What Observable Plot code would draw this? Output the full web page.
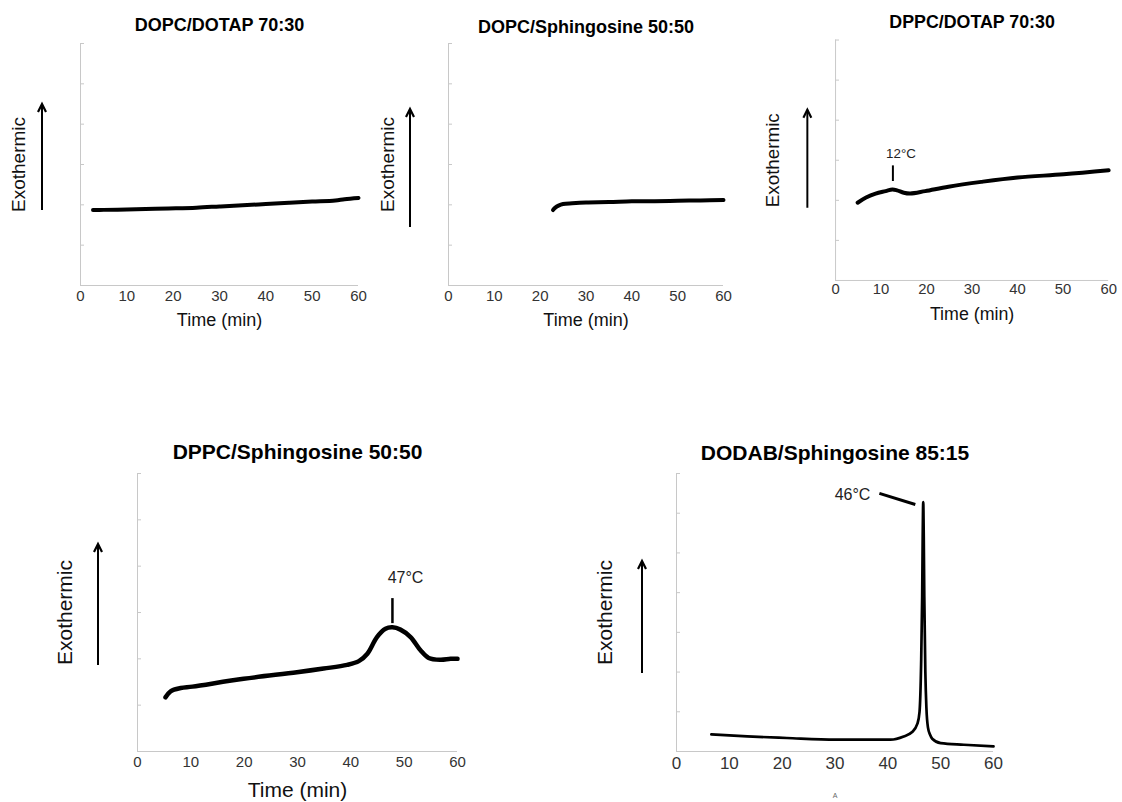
<!DOCTYPE html>
<html><head><meta charset="utf-8">
<script src="https://cdn.jsdelivr.net/npm/d3@7"></script>
<script src="https://cdn.jsdelivr.net/npm/@observablehq/plot@0.6"></script>
<style>
html,body{margin:0;padding:0;background:#fff;}
#page{position:relative;width:1122px;height:802px;overflow:hidden;font-family:"Liberation Sans",Arial,sans-serif;}
.panel{position:absolute;}
.panel svg{overflow:visible;}
</style></head><body><div id="page"></div>
<script>
// ---------- data ----------
const xTicks = [0, 10, 20, 30, 40, 50, 60];
const xLabel = "Time (min)";
const yLabel = "Exothermic";
const titles = ["DOPC/DOTAP 70:30", "DOPC/Sphingosine 50:50", "DPPC/DOTAP 70:30", "DPPC/Sphingosine 50:50", "DODAB/Sphingosine 85:15"];

const p1Time = [2.7, 5, 8, 12, 19, 25, 30, 35, 40, 45, 50, 55, 57, 60];
const p1Signal = [1.87, 1.875, 1.88, 1.89, 1.91, 1.93, 1.96, 1.99, 2.02, 2.05, 2.08, 2.11, 2.14, 2.17];

const p2Time = [22.8, 23.3, 24, 25, 27, 30, 35, 40, 45, 50, 55, 60];
const p2Signal = [1.87, 1.93, 1.98, 2.02, 2.04, 2.06, 2.07, 2.09, 2.09, 2.1, 2.11, 2.12];

const p3Time = [4.85, 6.7, 8.8, 11.0, 12.5, 13.5, 15.0, 16.4, 19.7, 24.8, 32.0, 40.0, 50.1, 60];
const p3Signal = [1.94, 2.07, 2.17, 2.23, 2.27, 2.25, 2.19, 2.17, 2.23, 2.34, 2.46, 2.57, 2.65, 2.75];

const p4Time = [5.25, 6.2, 8.1, 10.3, 19.9, 29.9, 34.9, 39.3, 41.5, 43.1, 44.9, 46.5, 47.8, 49.3, 51.2, 53.1, 54.6, 56.8, 58.7, 60];
const p4Signal = [1.17, 1.30, 1.37, 1.40, 1.57, 1.71, 1.79, 1.87, 1.95, 2.11, 2.47, 2.65, 2.68, 2.63, 2.47, 2.18, 2.02, 1.98, 2.00, 2.00];

const p5Time = [6.6, 13.4, 20.9, 30.1, 40.5, 43.0, 44.6, 45.6, 46.0, 46.3, 46.5, 46.6, 46.7, 46.8, 46.9, 47.1, 47.3, 47.6, 48.0, 48.4, 50.0, 54.4, 60];
const p5Signal = [0.43, 0.38, 0.34, 0.30, 0.30, 0.38, 0.49, 0.70, 1.0, 2.2, 3.9, 5.4, 6.28, 5.4, 3.9, 2.0, 1.1, 0.6, 0.42, 0.32, 0.21, 0.17, 0.13];

// annotations (data units)
const p3Anno = ["12°C"], p3AnnoX = [11.1], p3AnnoY = [3.16], p3MarkX = [12.6], p3MarkY1 = [2.47], p3MarkY2 = [2.86];
const p4Anno = ["47°C"], p4AnnoX = [46.9], p4AnnoY = [3.74], p4MarkX = [47.8], p4MarkY1 = [2.76], p4MarkY2 = [3.3];
const p5Anno = ["46°C"], p5AnnoX = [36.7], p5AnnoY = [6.47], p5MarkX1 = [38.4], p5MarkY1 = [6.5], p5MarkX2 = [45.2], p5MarkY2 = [6.22];
const footnote = "A";

// ---------- layout ----------
const layout = [
  {left: 80, right: 358, top: 43, bottom: 285, ymax: 6, titleDy: -18, titleSize: 18, exoDx: -62, exoSize: 19, arrowDx: -38, arrowTop: 103, arrowBottom: 210, tickSize: 15, tickPad: 5, labelDy: 35, labelSize: 18, lw: 4, curve: "catmull-rom"},
  {left: 448, right: 723, top: 43, bottom: 285, ymax: 6, titleDy: -16, titleSize: 18, exoDx: -61, exoSize: 19, arrowDx: -38, arrowTop: 108, arrowBottom: 227, tickSize: 15, tickPad: 5, labelDy: 35, labelSize: 18, lw: 4, curve: "catmull-rom"},
  {left: 836, right: 1112, top: 40, bottom: 283, ymax: 6, titleDy: -18, titleSize: 18, exoDx: -63, exoSize: 19, arrowDx: -28, arrowTop: 110, arrowBottom: 210, tickSize: 15, tickPad: 3, labelDy: 34, labelSize: 18, lw: 4, curve: "catmull-rom"},
  {left: 137, right: 457, top: 473, bottom: 751, ymax: 6, titleDy: -21, titleSize: 21, exoDx: -72, exoSize: 21, arrowDx: -39, arrowTop: 543, arrowBottom: 665, tickSize: 15, tickPad: 5, labelDy: 39, labelSize: 21, lw: 4.5, curve: "catmull-rom"},
  {left: 676, right: 993, top: 473, bottom: 751, ymax: 7, titleDy: -20, titleSize: 21, exoDx: -71, exoSize: 21, arrowDx: -34, arrowTop: 560, arrowBottom: 673, tickSize: 17, tickPad: 5, labelDy: 0, labelSize: 0, lw: 2.7, curve: "monotone-x"}
];

const series = [
  [p1Time, p1Signal], [p2Time, p2Signal], [p3Time, p3Signal], [p4Time, p4Signal], [p5Time, p5Signal]
];

const annoMarks = [
  [],
  [],
  [
    Plot.text(p3Anno, {x: p3AnnoX, y: p3AnnoY, text: d => d, textAnchor: "start", fontSize: 13.5, fill: "#222"}),
    Plot.ruleX(p3MarkX, {x: d => d, y1: p3MarkY1, y2: p3MarkY2, stroke: "#000", strokeWidth: 2})
  ],
  [
    Plot.text(p4Anno, {x: p4AnnoX, y: p4AnnoY, text: d => d, textAnchor: "start", fontSize: 16, fill: "#222"}),
    Plot.ruleX(p4MarkX, {x: d => d, y1: p4MarkY1, y2: p4MarkY2, stroke: "#000", strokeWidth: 2.5})
  ],
  [
    Plot.text(p5Anno, {x: p5AnnoX, y: p5AnnoY, text: d => d, textAnchor: "end", fontSize: 16, fill: "#222"}),
    Plot.link(p5MarkX1, {x1: p5MarkX1, y1: p5MarkY1, x2: p5MarkX2, y2: p5MarkY2, stroke: "#000", strokeWidth: 3}),
    Plot.text([footnote], {frameAnchor: "bottom", dy: 44, lineAnchor: "middle", fontSize: 7, fill: "#666"})
  ]
];

const page = document.getElementById("page");

layout.forEach((c, i) => {
  const L = c.left - 90, T = c.top - 43;
  const W = c.right + 14 - L, H = c.bottom + 50 - T;
  const [xs, ys] = series[i];
  const arrow = (index, scales, values, dims) => {
    const g = d3.create("svg:g");
    const x = dims.marginLeft + c.arrowDx;
    const y1 = c.arrowTop - T, y2 = c.arrowBottom - T;
    g.append("line").attr("x1", x).attr("x2", x).attr("y1", y1 + 1).attr("y2", y2)
      .attr("stroke", "#000").attr("stroke-width", 2);
    g.append("polyline").attr("points", `${x - 4},${y1 + 9} ${x},${y1 + 1} ${x + 4},${y1 + 9}`)
      .attr("fill", "none").attr("stroke", "#000").attr("stroke-width", 2.2).attr("stroke-linejoin", "miter");
    return g.node();
  };
  const marks = [
    Plot.ruleX([0], {stroke: "#c8c8c8", strokeWidth: 1}),
    Plot.ruleY([0], {stroke: "#c8c8c8", strokeWidth: 1}),
    Plot.axisY({ticks: d3.range(0, c.ymax + 1), tickSize: -4, tickFormat: () => "", stroke: "#c8c8c8", label: null}),
    Plot.axisX({ticks: xTicks, tickSize: 0, tickPadding: c.tickPad, fontSize: c.tickSize, fill: "#333", label: null}),
    Plot.line(ys, {x: xs, y: ys, stroke: "#000", strokeWidth: c.lw, curve: c.curve, strokeLinecap: "round", strokeLinejoin: "round"}),
    Plot.text([titles[i]], {frameAnchor: "top", dy: c.titleDy, lineAnchor: "middle", fontSize: c.titleSize, fontWeight: "bold", fill: "#000"}),
    Plot.text([yLabel], {frameAnchor: "left", dx: c.exoDx, rotate: -90, textAnchor: "middle", lineAnchor: "middle", fontSize: c.exoSize, fill: "#111"}),
    arrow,
    ...annoMarks[i]
  ];
  if (c.labelSize) marks.push(Plot.text([xLabel], {frameAnchor: "bottom", dy: c.labelDy, lineAnchor: "middle", fontSize: c.labelSize, fill: "#111"}));
  const chart = Plot.plot({
    width: W, height: H,
    marginLeft: c.left - L, marginRight: W - (c.right - L),
    marginTop: c.top - T, marginBottom: H - (c.bottom - T),
    x: {domain: [0, 60], axis: null},
    y: {domain: [0, c.ymax], axis: null},
    style: {fontFamily: "'Liberation Sans', Arial, sans-serif", background: "transparent", overflow: "visible"},
    marks
  });
  const div = document.createElement("div");
  div.className = "panel";
  div.style.left = L + "px";
  div.style.top = T + "px";
  div.appendChild(chart);
  page.appendChild(div);
});
</script></body></html>
